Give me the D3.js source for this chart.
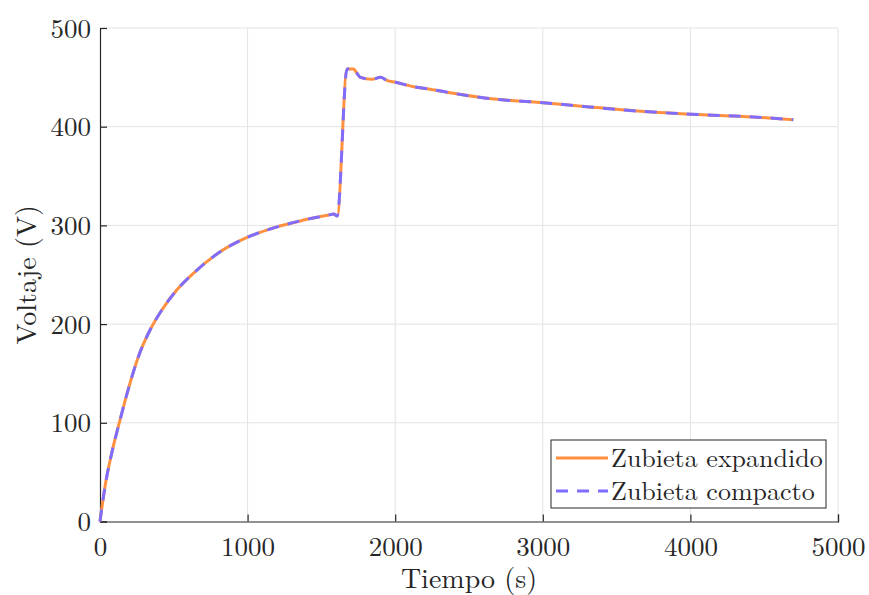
<!DOCTYPE html>
<html>
<head>
<meta charset="utf-8">
<script src="https://cdn.jsdelivr.net/npm/d3@7/dist/d3.min.js"></script>
<style>
  html, body { margin: 0; padding: 0; background: #fff; }
</style>
</head>
<body>
<svg id="chart" width="869" height="595"></svg>
<script>
// Charging voltage over time for the two Zubieta configurations
const tiempo = [0, 34, 79, 135, 203, 260, 339, 418, 520, 644, 802, 1000, 1188, 1369, 1550, 1584, 1607,
                1674, 1719, 1737, 1764, 1843, 1900, 1944, 2003, 2125, 2236, 2394, 2620, 3003, 3297,
                3636, 4008, 4426, 4697];
const voltajeExpandido = [0, 35.5, 69, 102.5, 140, 167, 194, 214, 234.5, 253, 272, 288, 298, 305, 310.5, 311.5, 309.5,
                          458.5, 458.5, 455, 450, 448, 450, 447, 445, 440.5, 438, 433.8, 428.8, 424.3, 420.3,
                          415.9, 412.6, 409.8, 407.1];
const voltajeCompacto = [0, 35.5, 69, 102.5, 140, 167, 194, 214, 234.5, 253, 272, 288, 298, 305, 310.5, 311.5, 309.5,
                         458.5, 458.5, 455, 450, 448, 450, 447, 445, 440.5, 438, 433.8, 428.8, 424.3, 420.3,
                         415.9, 412.6, 409.8, 407.1];
const xTicks = [0, 1000, 2000, 3000, 4000, 5000];
const yTicks = [0, 100, 200, 300, 400, 500];
const seriesNames = ["Zubieta expandido", "Zubieta compacto"];
const seriesColors = ["#ff9040", "#7f6dff"];

const FONT = "'Latin Modern Roman', 'Liberation Serif'";
const svg = d3.select("#chart");
const plotLeft = 100, plotRight = 838, plotTop = 28, plotBottom = 521.5;

const x = d3.scaleLinear().domain([0, 5000]).range([plotLeft, plotRight]);
const y = d3.scaleLinear().domain([0, 500]).range([plotBottom, plotTop]);

// grid
const grid = svg.append("g").attr("stroke", "#e3e3e3").attr("stroke-width", 1);
grid.selectAll("line.gx").data(xTicks.slice(1)).join("line")
  .attr("x1", d => x(d)).attr("x2", d => x(d)).attr("y1", plotTop).attr("y2", plotBottom);
grid.selectAll("line.gy").data(yTicks.slice(1)).join("line")
  .attr("x1", plotLeft).attr("x2", plotRight).attr("y1", d => y(d)).attr("y2", d => y(d));

// axes with inward ticks
const xAxis = d3.axisBottom(x).tickValues(xTicks).tickSize(-7).tickPadding(15).tickFormat(d3.format("d"));
const yAxis = d3.axisLeft(y).tickValues(yTicks).tickSize(-7).tickPadding(9).tickFormat(d3.format("d"));

const gx = svg.append("g").attr("transform", `translate(0,${plotBottom})`).call(xAxis);
const gy = svg.append("g").attr("transform", `translate(${plotLeft},0)`).call(yAxis);
[gx, gy].forEach(g => {
  g.attr("font-family", FONT).attr("font-size", 27);
  g.select(".domain").attr("stroke", "#262626").attr("stroke-width", 1.2);
  g.selectAll(".tick line").attr("stroke", "#262626").attr("stroke-width", 1.2);
  g.selectAll(".tick text").attr("fill", "#262626").style("font-family", FONT).style("font-size", "27px");
});
gx.selectAll(".tick text").attr("dy", "0.71em");
gy.selectAll(".tick text").attr("dy", "0.34em");

// axis titles
svg.append("text").attr("x", (plotLeft + plotRight) / 2).attr("y", 588)
  .attr("text-anchor", "middle").attr("fill", "#262626")
  .style("font-family", FONT).style("font-size", "28px")
  .text("Tiempo (s)");
svg.append("text").attr("transform", `translate(36,${(plotTop + plotBottom) / 2}) rotate(-90)`)
  .attr("text-anchor", "middle").attr("fill", "#262626")
  .style("font-family", FONT).style("font-size", "28px")
  .text("Voltaje (V)");

// series
const line = d3.line().x(d => x(d[0])).y(d => y(d[1])).curve(d3.curveMonotoneX);
const dataExp = tiempo.map((t, i) => [t, voltajeExpandido[i]]);
const dataComp = tiempo.map((t, i) => [t, voltajeCompacto[i]]);

svg.append("path").datum(dataExp).attr("d", line)
  .attr("fill", "none").attr("stroke", seriesColors[0]).attr("stroke-width", 3)
  .attr("stroke-linejoin", "round");
svg.append("path").datum(dataComp).attr("d", line)
  .attr("fill", "none").attr("stroke", seriesColors[1]).attr("stroke-width", 3)
  .attr("stroke-dasharray", "12,9").attr("stroke-linejoin", "round");

// legend
const lg = svg.append("g");
lg.append("rect").attr("x", 551).attr("y", 440).attr("width", 275).attr("height", 68)
  .attr("fill", "#fff").attr("stroke", "#262626").attr("stroke-width", 1);
const rowsY = [458, 491];
seriesNames.forEach((name, i) => {
  lg.append("line").attr("x1", 556).attr("x2", 608).attr("y1", rowsY[i]).attr("y2", rowsY[i])
    .attr("stroke", seriesColors[i]).attr("stroke-width", 3)
    .attr("stroke-dasharray", i === 1 ? "12,9" : null);
  lg.append("text").attr("x", 611).attr("y", rowsY[i]).attr("dy", "0.34em").attr("fill", "#262626")
    .style("font-family", FONT).style("font-size", "26px")
    .text(name);
});
</script>
</body>
</html>
